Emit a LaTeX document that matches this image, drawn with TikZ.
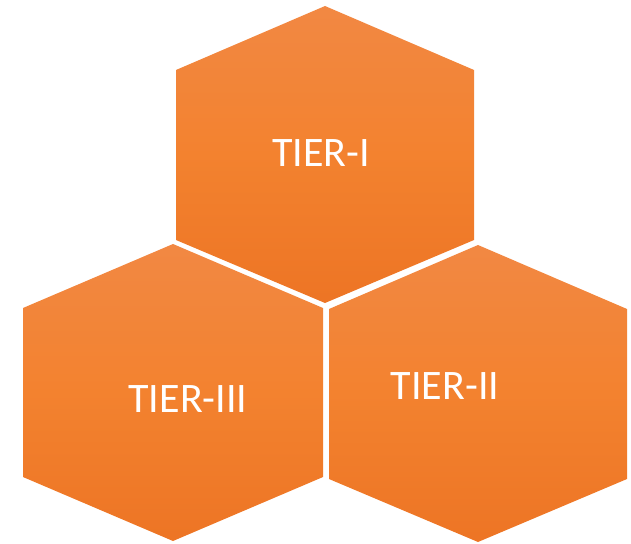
\documentclass[tikz,border=0pt]{standalone}
\usepackage{fontspec}
\setmainfont{Carlito}
\definecolor{topc}{HTML}{F08E57}
\definecolor{midc}{HTML}{F3822F}
\definecolor{botc}{HTML}{E7671A}
\pgfdeclareverticalshading{tiershade}{100bp}{color(0bp)=(botc); color(50bp)=(midc); color(100bp)=(topc)}
\tikzset{
  hexfill/.style={shading=tiershade, draw=none},
  tierlabel/.style={text=white, font=\fontsize{42}{50}\selectfont, inner sep=0pt}
}
\begin{document}
\begin{tikzpicture}[x=1pt,y=-1pt]
\useasboundingbox (0,0) rectangle (631,543);
% top hexagon
\shade[hexfill] (325,6) -- (474,70) -- (474,240) -- (325,303) -- (176,240) -- (176,70) -- cycle;
% lower-left hexagon
\shade[hexfill] (173,244) -- (323,308) -- (323,477) -- (173,541) -- (23,477) -- (23,308) -- cycle;
% lower-right hexagon
\shade[hexfill] (478,245) -- (627,309) -- (627,479) -- (478,542) -- (329,479) -- (329,309) -- cycle;
\node[tierlabel] (t1) at (321,153) {TIER-I};
\node[tierlabel] (t3) at (188,399) {TIER-III};
\node[tierlabel] (t2) at (445,386) {TIER-II};
\end{tikzpicture}
\end{document}
